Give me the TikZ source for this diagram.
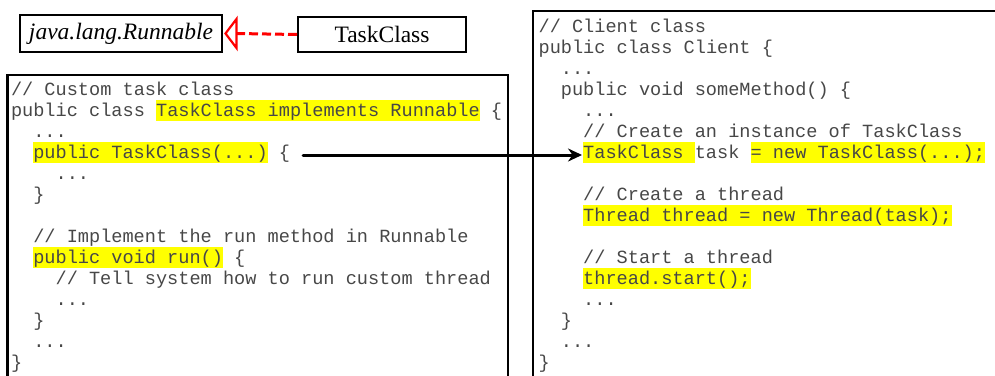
\documentclass[tikz,border=0pt]{standalone}
\usepackage{fontspec}
\usetikzlibrary{arrows.meta}
\newfontfamily\codefont{Liberation Mono}
\newfontfamily\umlfont{Liberation Serif}
\definecolor{hlyellow}{HTML}{FFFF00}
\definecolor{dashred}{HTML}{FF0000}
% highlighted span of code: a yellow band one line tall
\newcommand\hl[1]{{\setlength{\fboxsep}{0pt}\colorbox{hlyellow}{\rule[-5pt]{0pt}{21pt}#1}}}
\frenchspacing
\tikzset{
  umlbox/.style={draw, line width=2pt, inner sep=0pt,
    font=\umlfont\fontsize{23.5}{26}\selectfont},
  codeframe/.style={draw, line width=2.2pt},
  codeline/.style={anchor=base west, inner sep=0pt, text=black!72,
    font=\codefont\fontsize{18.6}{21}\selectfont\frenchspacing},
  realizes/.style={draw=dashred, line width=3pt, dash pattern=on 9pt off 4pt},
  hollowhead/.style={draw=dashred, line width=2.2pt, line join=miter, solid},
  calls/.style={draw=black, line width=3pt, line cap=round,
    -{Stealth[length=14pt, width=13pt]}}
}
\begin{document}
\begin{tikzpicture}[x=1pt, y=1pt]
\useasboundingbox (0,0) rectangle (995,-375);

% UML part
\node[umlbox, minimum width=202pt, minimum height=37pt] (runnable) at (121,-33.5) {\itshape java.lang.Runnable};
\node[umlbox, minimum width=168pt, minimum height=35pt] (taskclass) at (382,-34.5) {TaskClass};
% realization: dashed line ending in a hollow triangle at the interface
\coordinate (tipapex) at ([xshift=2.5pt]runnable.east);
\coordinate (tipback) at ([xshift=11pt]tipapex);
\draw[realizes] (taskclass.west) -- (tipback);
\draw[hollowhead] (tipapex) -- ([yshift=14.5pt]tipback) -- ([yshift=-14.5pt]tipback) -- cycle;

% frames of the two listings (open at the bottom)
\draw[codeframe] (7.5,-376) |- (508,-75) -- (508,-376);
\draw[codeframe] (533,-376) |- (997,-11);

% listing: task class
\node[codeline] (l0)  at (10.8,-95)  {// Custom task class};
\node[codeline] (l1)  at (10.8,-116) {public class \hl{TaskClass implements Runnable} \{};
\node[codeline] (l2)  at (33.1,-137) {...};
\node[codeline] (l3)  at (33.1,-158) {\hl{public TaskClass(...)} \{};
\node[codeline] (l4)  at (55.4,-179) {...};
\node[codeline] (l5)  at (33.1,-200) {\}};
\node[codeline] (l7)  at (33.1,-242) {// Implement the run method in Runnable};
\node[codeline] (l8)  at (33.1,-263) {\hl{public void run()} \{};
\node[codeline] (l9)  at (55.4,-284) {// Tell system how to run custom thread};
\node[codeline] (l10) at (55.4,-305) {...};
\node[codeline] (l11) at (33.1,-326) {\}};
\node[codeline] (l12) at (33.1,-347) {...};
\node[codeline] (l13) at (10.8,-368) {\}};

% listing: client class
\node[codeline] (r0)  at (538.4,-32)  {// Client class};
\node[codeline] (r1)  at (538.4,-53)  {public class Client \{};
\node[codeline] (r2)  at (560.7,-74)  {...};
\node[codeline] (r3)  at (560.7,-95)  {public void someMethod() \{};
\node[codeline] (r4)  at (583.0,-116) {...};
\node[codeline] (r5)  at (583.0,-137) {// Create an instance of TaskClass};
\node[codeline] (r6)  at (583.0,-158) {\hl{TaskClass\ }task \hl{= new TaskClass(...);}};
\node[codeline] (r8)  at (583.0,-200) {// Create a thread};
\node[codeline] (r9)  at (583.0,-221) {\hl{Thread thread = new Thread(task);}};
\node[codeline] (r11) at (583.0,-263) {// Start a thread};
\node[codeline] (r12) at (583.0,-284) {\hl{thread.start();}};
\node[codeline] (r13) at (583.0,-305) {...};
\node[codeline] (r14) at (560.7,-326) {\}};
\node[codeline] (r15) at (560.7,-347) {...};
\node[codeline] (r16) at (538.4,-368) {\}};

% constructor call
\draw[calls] ([xshift=13pt, yshift=-2.5pt]l3.east) -- ([xshift=-1pt, yshift=-2.5pt]r6.west);
\end{tikzpicture}
\end{document}
